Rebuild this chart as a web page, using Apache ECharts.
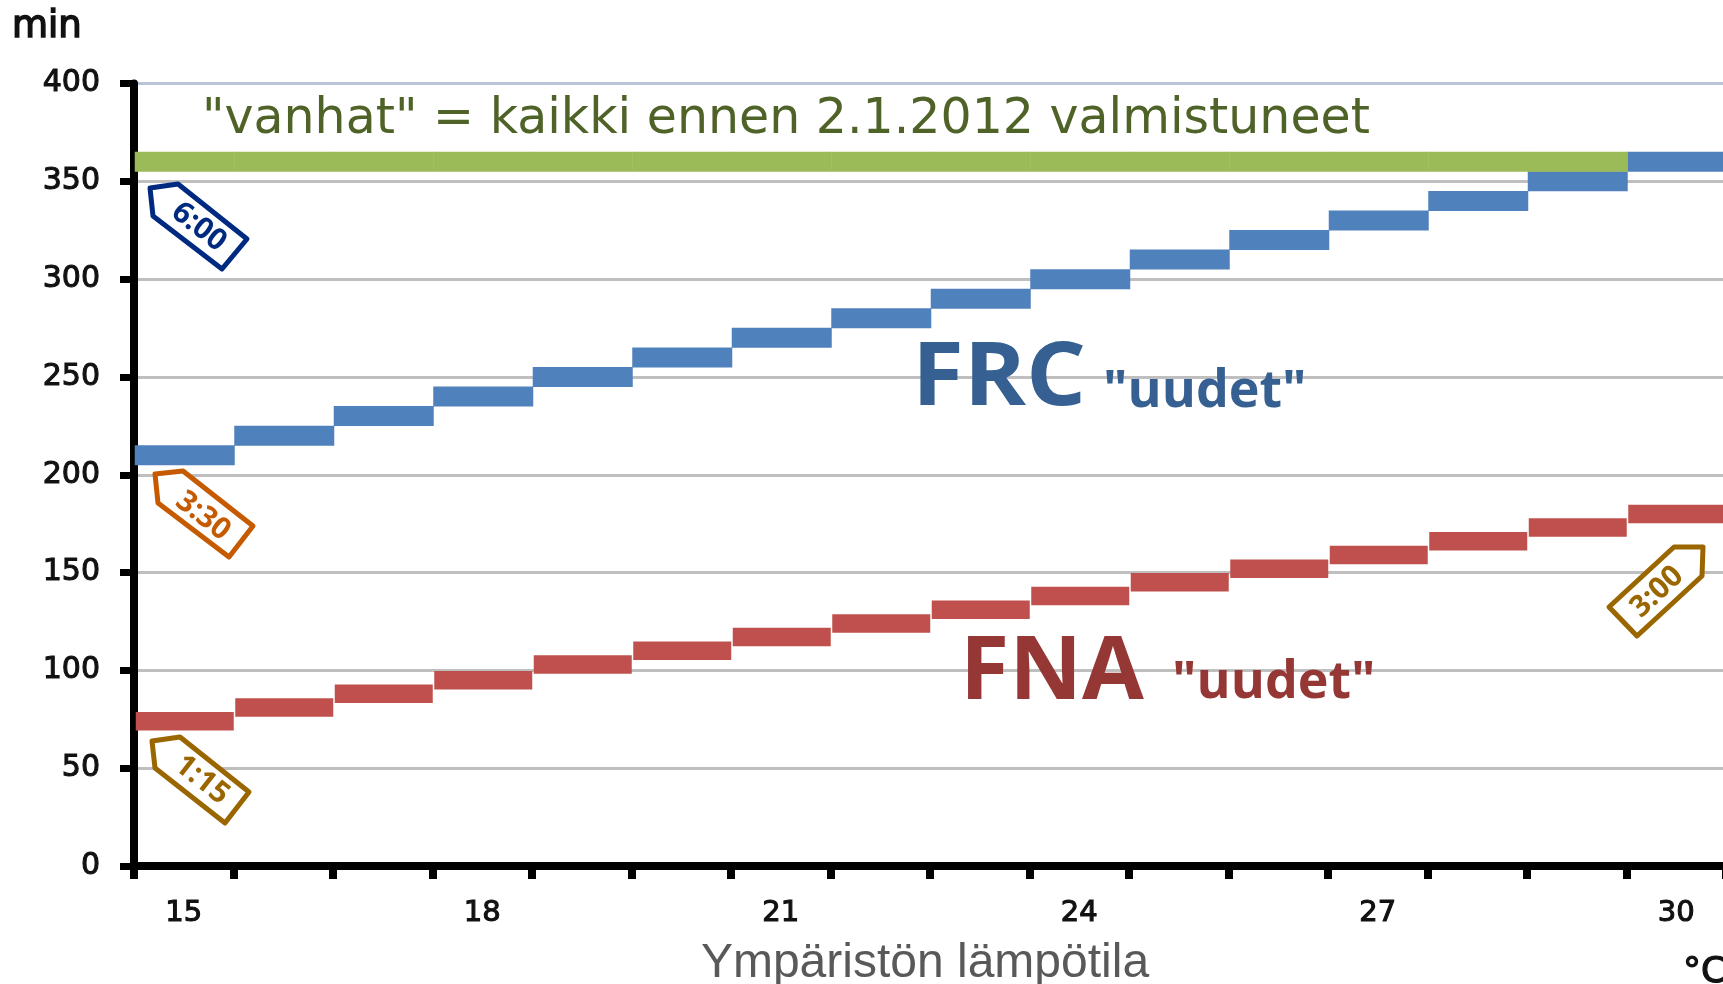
<!DOCTYPE html>
<html>
<head>
<meta charset="utf-8">
<title>Ympäristön lämpötila</title>
<script src="https://cdn.jsdelivr.net/npm/echarts@6/dist/echarts.min.js"></script>
<style>
  html, body { margin: 0; padding: 0; background: #fff; overflow: hidden; }
  #chart { width: 1723px; height: 984px; }
</style>
</head>
<body>
<div id="chart"></div>
<script>
var categories = ['15', '16', '17', '18', '19', '20', '21', '22', '23', '24', '25', '26', '27', '28', '29', '30'];
var vanhat = [360, 360, 360, 360, 360, 360, 360, 360, 360, 360, 360, 360, 360, 360, 360, '-'];
var frc = [210, 220, 230, 240, 250, 260, 270, 280, 290, 300, 310, 320, 330, 340, 350, 360];
var fna = [74, 81, 88, 95, 103, 110, 117, 124, 131, 138, 145, 152, 159, 166, 173, 180];
var yTicks = { min: 0, max: 400, interval: 50 };

var FONT = '"DejaVu Sans"';
var HEAD = '"Open Sans"';

// kalteva hintalappu: monikulmio + kierretty teksti
function tag(points, text, color, cx, cy, angle) {
  return [
    {
      type: 'polygon',
      shape: { points: points },
      style: { fill: '#fff', stroke: color, lineWidth: 5, lineJoin: 'round' },
      z: 20
    },
    {
      type: 'text',
      x: cx,
      y: cy,
      rotation: angle * Math.PI / 180,
      style: {
        text: text,
        fill: color,
        font: 'bold 30px ' + HEAD,
        align: 'center',
        verticalAlign: 'middle'
      },
      z: 21
    }
  ];
}

function note(x, y, text, font, color, scaleX) {
  return {
    type: 'text',
    x: x,
    y: y,
    scaleX: scaleX || 1,
    style: { text: text, fill: color, font: font, verticalAlign: 'middle' },
    z: 15
  };
}

function steps(name, values, color, size, z) {
  return {
    name: name,
    type: 'scatter',
    data: values,
    symbol: 'rect',
    symbolSize: size,
    symbolOffset: [1, 0],
    itemStyle: { color: color, opacity: 1 },
    z: z,
    silent: true
  };
}

var chart = echarts.init(document.getElementById('chart'));
chart.setOption({
  animation: false,
  backgroundColor: '#fff',
  grid: { left: 134, top: 83.5, width: 1592, height: 782.5, containLabel: false, outerBoundsMode: 'none' },
  xAxis: {
    type: 'category',
    data: categories,
    boundaryGap: true,
    name: 'Ympäristön lämpötila',
    nameLocation: 'middle',
    nameGap: 74,
    nameTextStyle: {
      fontFamily: '"Liberation Sans"',
      fontSize: 48,
      color: '#595959',
      padding: [0, 10, 0, 0]
    },
    axisLine: { lineStyle: { color: '#000', width: 8 } },
    axisTick: { show: true, interval: 0, alignWithLabel: false, length: 13, lineStyle: { color: '#000', width: 8 } },
    axisLabel: {
      interval: 2,
      margin: 33,
      fontFamily: FONT,
      fontSize: 29,
      color: '#111',
      textBorderColor: '#111',
      textBorderWidth: 1.1
    },
    splitLine: { show: false }
  },
  yAxis: {
    type: 'value',
    min: yTicks.min,
    max: yTicks.max,
    interval: yTicks.interval,
    axisLine: { show: true, lineStyle: { color: '#000', width: 8 } },
    axisTick: { show: true, length: 14, lineStyle: { color: '#000', width: 7 } },
    axisLabel: {
      margin: 34,
      fontFamily: FONT,
      fontSize: 30,
      color: '#111',
      textBorderColor: '#111',
      textBorderWidth: 1.1
    },
    splitLine: {
      show: true,
      lineStyle: {
        color: ['#bfbfbf', '#bfbfbf', '#bfbfbf', '#bfbfbf', '#bfbfbf', '#bfbfbf', '#bfbfbf', '#bfbfbf', '#b9c4d8'],
        width: 3
      }
    }
  },
  series: [
    steps('FNA', fna, '#c0504d', [98, 18.5], 3),
    steps('FRC', frc, '#4f81bd', [100, 20], 3),
    steps('vanhat', vanhat, '#9bbb59', [100, 20], 4)
  ],
  graphic: [
    {
      type: 'text',
      x: 12,
      y: 27,
      style: { text: 'min', fill: '#111', font: 'normal 37px ' + FONT, verticalAlign: 'middle', stroke: '#111', lineWidth: 1.5 }
    },
    {
      type: 'text',
      x: 1683,
      y: 973,
      style: { text: '°C', fill: '#111', font: 'normal 36px ' + FONT, verticalAlign: 'middle', stroke: '#111', lineWidth: 1.2 }
    },
    note(202, 120, '"vanhat" = kaikki ennen 2.1.2012 valmistuneet', 'normal 49px ' + FONT, '#4f6228'),
    note(912, 380, 'FRC', 'bold 87px ' + HEAD, '#376092', 1.085),
    note(1103, 392, '"uudet"', 'bold 52px ' + HEAD, '#376092'),
    note(960, 674, 'FNA', 'bold 87px ' + HEAD, '#953735', 1.03),
    note(1172, 683, '"uudet"', 'bold 52px ' + HEAD, '#953735')
  ]
    .concat(tag([[150, 188], [178, 184], [247, 239], [222, 269], [153, 216]], '6:00', '#002a80', 199, 227, -38))
    .concat(tag([[155, 474], [183, 471], [253, 526], [229, 557], [158, 503]], '3:30', '#c55a00', 203, 516, -38))
    .concat(tag([[152, 741], [180, 737], [249, 792], [225, 823], [155, 768]], '1:15', '#996600', 202, 780, -38))
    .concat(tag([[1703, 547], [1674, 547], [1609, 607], [1637, 636], [1702, 576]], '3:00', '#996600', 1657, 592, 43))
});
</script>
</body>
</html>
